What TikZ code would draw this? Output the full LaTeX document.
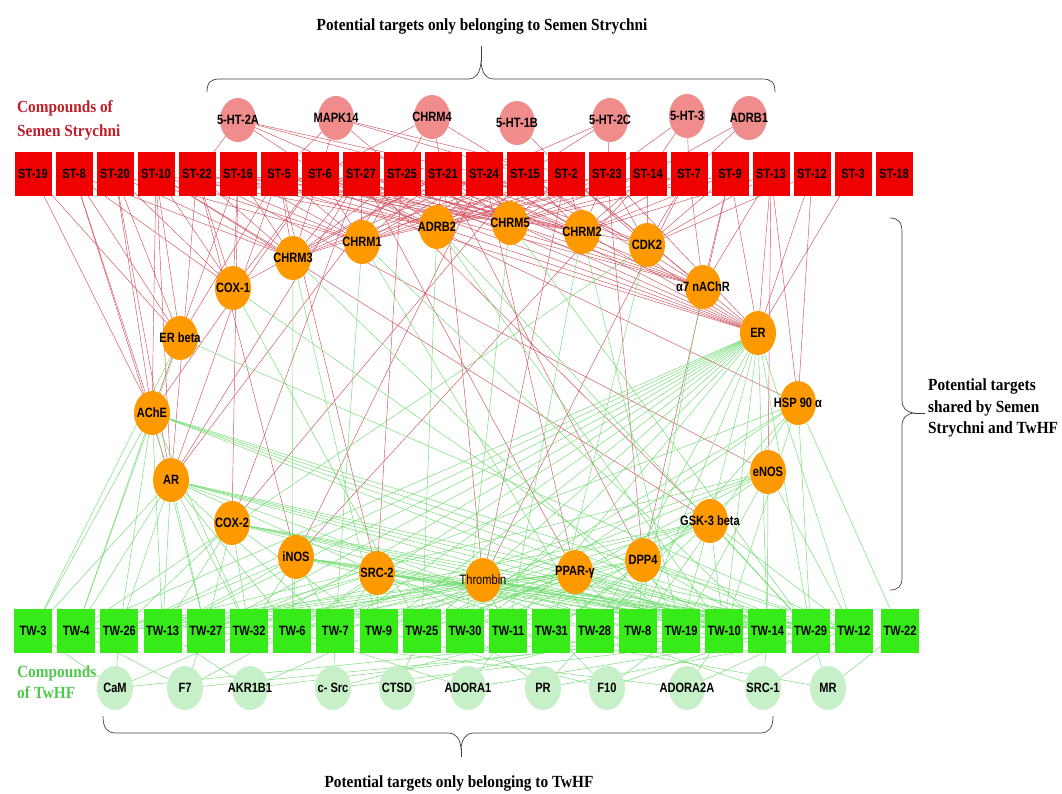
\documentclass[tikz,border=0pt]{standalone}
\usepackage{fontspec}
\setmainfont{Liberation Serif}
\setsansfont{Liberation Sans}
\newfontfamily\nodefont[FakeStretch=0.82]{Liberation Sans}
\newfontfamily\capfont[FakeStretch=0.9]{Liberation Serif}
\usetikzlibrary{shapes.geometric,backgrounds}

\definecolor{stred}{RGB}{240,0,0}
\definecolor{twgreen}{RGB}{55,235,25}
\definecolor{pinkt}{RGB}{240,140,140}
\definecolor{oranget}{RGB}{255,153,0}
\definecolor{lgreent}{RGB}{200,240,200}
\definecolor{redline}{RGB}{210,80,95}
\definecolor{greenline}{RGB}{110,220,110}
\definecolor{redtext}{RGB}{190,30,40}
\definecolor{greentext}{RGB}{80,200,80}

\newcommand{\tlab}[1]{\makebox[0pt]{#1}}

\tikzset{
  boxlbl/.style={font=\nodefont\bfseries\fontsize{13.5}{14}\selectfont},
  stbox/.style={rectangle, fill=stred, minimum width=37pt, minimum height=44pt, inner sep=0pt, boxlbl},
  twbox/.style={rectangle, fill=twgreen, minimum width=38pt, minimum height=44pt, inner sep=0pt, boxlbl},
  target/.style={ellipse, minimum width=36pt, minimum height=44pt, inner sep=0pt, boxlbl},
  stonly/.style={target, fill=pinkt},
  shared/.style={target, fill=oranget},
  twonly/.style={target, fill=lgreent},
  redge/.style={redline, line width=0.45pt},
  gedge/.style={greenline, line width=0.45pt},
  caption/.style={font=\capfont\bfseries\fontsize{17}{21.5}\selectfont, align=left, inner sep=0pt},
  braceline/.style={line width=0.7pt, black!75}
}

\begin{document}
\begin{tikzpicture}[x=1pt, y=-1pt]
  \useasboundingbox (0,0) rectangle (1062,793);

  \foreach \n [count=\i from 0] in {19,8,20,10,22,16,5,6,27,25,21,24,15,2,23,14,7,9,13,12,3,18}
    \node[stbox] (st\n) at ({33+41*\i},174) {ST-\n};
  \foreach \n [count=\i from 0] in {3,4,26,13,27,32,6,7,9,25,30,11,31,28,8,19,10,14,29,12}
    \node[twbox] (tw\n) at ({33+43.2*\i},631) {TW-\n};
  \node[twbox] (tw22) at (900,631) {TW-22};

  \node[stonly] (ht2a) at (238,120) {\tlab{5-HT-2A}};
  \node[stonly] (mapk14) at (336,118) {\tlab{MAPK14}};
  \node[stonly] (chrm4) at (432,117) {\tlab{CHRM4}};
  \node[stonly] (ht1b) at (517,123) {\tlab{5-HT-1B}};
  \node[stonly] (ht2c) at (610,120) {\tlab{5-HT-2C}};
  \node[stonly] (ht3) at (687,116) {\tlab{5-HT-3}};
  \node[stonly] (adrb1) at (749,118) {\tlab{ADRB1}};

  \node[shared] (chrm3) at (293,258) {\tlab{CHRM3}};
  \node[shared] (cox1) at (233,288) {\tlab{COX-1}};
  \node[shared] (erb) at (180,338) {\tlab{ER beta}};
  \node[shared] (chrm1) at (362,242) {\tlab{CHRM1}};
  \node[shared] (adrb2) at (437,227) {\tlab{ADRB2}};
  \node[shared] (chrm5) at (510,223) {\tlab{CHRM5}};
  \node[shared] (chrm2) at (582,232) {\tlab{CHRM2}};
  \node[shared] (cdk2) at (647,245) {\tlab{CDK2}};
  \node[shared] (a7n) at (703,287) {\tlab{α7 nAChR}};
  \node[shared] (er) at (758,333) {\tlab{ER}};
  \node[shared] (hsp) at (798,403) {\tlab{HSP 90 α}};
  \node[shared] (enos) at (768,472) {\tlab{eNOS}};
  \node[shared] (gsk) at (710,521) {\tlab{GSK-3 beta}};
  \node[shared] (dpp4) at (643,560) {\tlab{DPP4}};
  \node[shared] (ppar) at (575,572) {\tlab{PPAR-γ}};
  \node[shared] (ache) at (152,413) {\tlab{AChE}};
  \node[shared] (ar) at (171,480) {\tlab{AR}};
  \node[shared] (cox2) at (232,523) {\tlab{COX-2}};
  \node[shared] (inos) at (296,557) {\tlab{iNOS}};
  \node[shared] (src2) at (377,573) {\tlab{SRC-2}};
  \node[shared, font=\nodefont\fontsize{13.5}{14}\selectfont] (thr) at (483,580) {\tlab{Thrombin}};

  \node[twonly] (cam) at (115,688) {\tlab{CaM}};
  \node[twonly] (f7) at (185,688) {\tlab{F7}};
  \node[twonly] (akr) at (250,688) {\tlab{AKR1B1}};
  \node[twonly] (csrc) at (333,688) {\tlab{c- Src}};
  \node[twonly] (ctsd) at (397,688) {\tlab{CTSD}};
  \node[twonly] (adora1) at (468,688) {\tlab{ADORA1}};
  \node[twonly] (pr) at (543,688) {\tlab{PR}};
  \node[twonly] (f10) at (607,688) {\tlab{F10}};
  \node[twonly] (adora2a) at (687,688) {\tlab{ADORA2A}};
  \node[twonly] (src1) at (763,688) {\tlab{SRC-1}};
  \node[twonly] (mr) at (828,688) {\tlab{MR}};

  \node[caption, anchor=base] (toptitle) at (482,30) {Potential targets only belonging to Semen Strychni};
  \node[caption, anchor=base] (bottitle) at (459,787) {Potential targets only belonging to TwHF};
  \node[caption, anchor=west] (sharedlbl) at (928,408) {Potential targets\\shared by Semen\\Strychni and TwHF};
  \node[caption, text=redtext, anchor=north west, font=\capfont\bfseries\fontsize{17}{24}\selectfont] (stlbl) at (17,100) {Compounds of\\Semen Strychni};
  \node[caption, text=greentext, anchor=north west] (twlbl) at (17,665) {Compounds\\of TwHF};

  \draw[braceline] (207,92) .. controls (207,82) and (211,79) .. (220,79) -- (468,79)
    .. controls (477,79) and (480,72) .. (481,62) .. controls (482,72) and (485,79) .. (494,79)
    -- (762,79) .. controls (771,79) and (775,82) .. (775,92);
  \draw[braceline] (481,62) -- (481,46);
  \draw[braceline] (890,218) .. controls (898,218) and (902,222) .. (902,232) -- (902,400)
    .. controls (902,408) and (906,412) .. (914,413) .. controls (906,414) and (902,418) .. (902,426)
    -- (902,578) .. controls (902,586) and (898,590) .. (890,590);
  \draw[braceline] (914,413) -- (925,413);
  \draw[braceline] (103,716) .. controls (103,728) and (107,733) .. (116,733) -- (448,733)
    .. controls (457,733) and (460,740) .. (461,748) .. controls (462,740) and (465,733) .. (474,733)
    -- (760,733) .. controls (769,733) and (773,728) .. (773,716);
  \draw[braceline] (461,748) -- (461,757);

  \begin{scope}[on background layer]
    \fill[white] (0,0) rectangle (1062,793);
    % Semen Strychni compounds
    \foreach \cmp in {22,6,27,21,24} \draw[redge] (ht2a) -- (st\cmp);
    \foreach \cmp in {5,6,25,15,2} \draw[redge] (mapk14) -- (st\cmp);
    \foreach \cmp in {6,25,21,15} \draw[redge] (chrm4) -- (st\cmp);
    \foreach \cmp in {2} \draw[redge] (ht1b) -- (st\cmp);
    \foreach \cmp in {23,15,24} \draw[redge] (ht2c) -- (st\cmp);
    \foreach \cmp in {14,23,7} \draw[redge] (ht3) -- (st\cmp);
    \foreach \cmp in {14,7} \draw[redge] (adrb1) -- (st\cmp);
    \foreach \cmp in {8,20,10,22,16,5,6,27,25,21,24,15,2} \draw[redge] (chrm3) -- (st\cmp);
    \foreach \cmp in {20,10,22,16,5,6,27,25,21,24,15,2,23,14} \draw[redge] (chrm1) -- (st\cmp);
    \foreach \cmp in {10,22,16,5,6,27,21,24,15,2,23,14,7} \draw[redge] (adrb2) -- (st\cmp);
    \foreach \cmp in {22,16,5,27,25,21,24,15,2,23,14,7,9} \draw[redge] (chrm5) -- (st\cmp);
    \foreach \cmp in {16,5,6,27,25,21,24,15,2,23,14,7,9,13} \draw[redge] (chrm2) -- (st\cmp);
    \foreach \cmp in {6,21,24,2,23,14,7,9,13,12} \draw[redge] (cdk2) -- (st\cmp);
    \foreach \cmp in {5,6,27,25,21,15,2,7,9,13} \draw[redge] (a7n) -- (st\cmp);
    \foreach \cmp in {16,5,6,27,25,21,24,15,2,23,9,13,12,3} \draw[redge] (er) -- (st\cmp);
    \foreach \cmp in {8,20,10,22,16,6,21} \draw[redge] (cox1) -- (st\cmp);
    \foreach \cmp in {19,8,20,10,5} \draw[redge] (erb) -- (st\cmp);
    \foreach \cmp in {19,8,20,10,16,6} \draw[redge] (ache) -- (st\cmp);
    \foreach \cmp in {8,20,10,22,5,27,25} \draw[redge] (ar) -- (st\cmp);
    \foreach \cmp in {16,27,15} \draw[redge] (cox2) -- (st\cmp);
    \foreach \cmp in {22,24,14} \draw[redge] (inos) -- (st\cmp);
    \foreach \cmp in {5,25} \draw[redge] (src2) -- (st\cmp);
    \foreach \cmp in {21,2,7} \draw[redge] (thr) -- (st\cmp);
    \foreach \cmp in {27,24} \draw[redge] (ppar) -- (st\cmp);
    \foreach \cmp in {21,23,9} \draw[redge] (dpp4) -- (st\cmp);
    \foreach \cmp in {10,27} \draw[redge] (gsk) -- (st\cmp);
    \foreach \cmp in {22,13} \draw[redge] (enos) -- (st\cmp);
    \foreach \cmp in {6,13,12} \draw[redge] (hsp) -- (st\cmp);
    % TwHF compounds
    \foreach \cmp in {6,9,19} \draw[gedge] (chrm3) -- (tw\cmp);
    \foreach \cmp in {7,28,14} \draw[gedge] (chrm1) -- (tw\cmp);
    \foreach \cmp in {25,10,29} \draw[gedge] (adrb2) -- (tw\cmp);
    \foreach \cmp in {30,29} \draw[gedge] (chrm5) -- (tw\cmp);
    \foreach \cmp in {11,19} \draw[gedge] (chrm2) -- (tw\cmp);
    \foreach \cmp in {31,4} \draw[gedge] (cdk2) -- (tw\cmp);
    \foreach \cmp in {8} \draw[gedge] (a7n) -- (tw\cmp);
    \foreach \cmp in {4,26,13,27,32,6,7,9,25,30,11,28,8,19,10,14,29,12} \draw[gedge] (er) -- (tw\cmp);
    \foreach \cmp in {25,10} \draw[gedge] (cox1) -- (tw\cmp);
    \foreach \cmp in {3,4,12} \draw[gedge] (erb) -- (tw\cmp);
    \foreach \cmp in {3,4,26,13,27,32,10,14,29,12} \draw[gedge] (ache) -- (tw\cmp);
    \foreach \cmp in {3,4,26,13,27,32,6,7,11,28,10,14,29,12} \draw[gedge] (ar) -- (tw\cmp);
    \foreach \cmp in {26,13,27,32,9,8,10,14,29,12} \draw[gedge] (cox2) -- (tw\cmp);
    \foreach \cmp in {26,13,32,6,7,28,19,10,14,29,12} \draw[gedge] (inos) -- (tw\cmp);
    \foreach \cmp in {13,27,6,7,9,31,10,14,29,12} \draw[gedge] (src2) -- (tw\cmp);
    \foreach \cmp in {4,26,27,6,9,30,11,8,10,14,29,12} \draw[gedge] (thr) -- (tw\cmp);
    \foreach \cmp in {26,13,32,7,25,28,8,19,10,14,29} \draw[gedge] (ppar) -- (tw\cmp);
    \foreach \cmp in {27,6,9,30,31,8,19,14,29,12} \draw[gedge] (dpp4) -- (tw\cmp);
    \foreach \cmp in {13,32,7,25,11,28,10,29,12} \draw[gedge] (gsk) -- (tw\cmp);
    \foreach \cmp in {26,6,9,30,31,19,14,12} \draw[gedge] (enos) -- (tw\cmp);
    \foreach \cmp in {27,25,30,28,8,10,29,22} \draw[gedge] (hsp) -- (tw\cmp);
    \foreach \cmp in {3,26,32,19} \draw[gedge] (cam) -- (tw\cmp);
    \foreach \cmp in {4,27,6,14} \draw[gedge] (f7) -- (tw\cmp);
    \foreach \cmp in {13,9,10} \draw[gedge] (akr) -- (tw\cmp);
    \foreach \cmp in {7,31,29} \draw[gedge] (csrc) -- (tw\cmp);
    \foreach \cmp in {25,8} \draw[gedge] (ctsd) -- (tw\cmp);
    \foreach \cmp in {6,11,29} \draw[gedge] (adora1) -- (tw\cmp);
    \foreach \cmp in {30,28,12} \draw[gedge] (pr) -- (tw\cmp);
    \foreach \cmp in {9,31,19,14} \draw[gedge] (f10) -- (tw\cmp);
    \foreach \cmp in {27,10,29} \draw[gedge] (adora2a) -- (tw\cmp);
    \foreach \cmp in {28,14,12} \draw[gedge] (src1) -- (tw\cmp);
    \foreach \cmp in {11,29,22} \draw[gedge] (mr) -- (tw\cmp);
  \end{scope}
\end{tikzpicture}
\end{document}
